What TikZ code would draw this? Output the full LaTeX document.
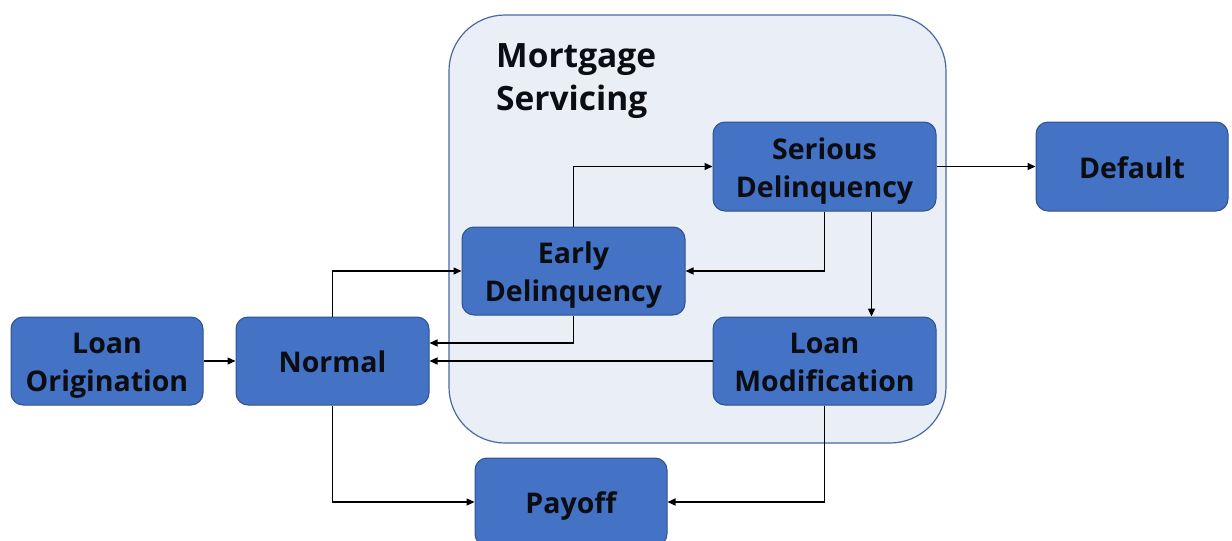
\documentclass[tikz,border=0pt]{standalone}
\usepackage{fontspec}
\setmainfont{Open Sans}
\usetikzlibrary{arrows.meta}
\definecolor{boxfill}{HTML}{4472C4}
\definecolor{boxline}{HTML}{2F528F}
\definecolor{bigfill}{HTML}{EAEEF7}
\definecolor{bigline}{HTML}{4A69A3}
\definecolor{txt}{HTML}{0B0D12}
\newcommand\bxt[1]{\raisebox{-10.5pt}[0pt][0pt]{\begin{tabular}{@{}c@{}}#1\end{tabular}}}
\tikzset{
  statebox/.style={draw=boxline, line width=1pt, fill=boxfill, rounded corners=12pt,
    text=txt, inner sep=0pt,
    font=\fontsize{28.5}{38}\selectfont\bfseries},
  bigbox/.style={draw=bigline, line width=1.2pt, fill=bigfill, rounded corners=56pt, inner sep=0pt},
  arr/.style={draw=black, line width=1.4pt, -{Triangle[length=8pt,width=7pt]}},
}
\begin{document}
\begin{tikzpicture}[x=1pt,y=-1pt]
\useasboundingbox (0,0) rectangle (1232,541);
\node[bigbox, minimum width=497pt, minimum height=428pt] (ms) at (697.5,229) {};
\node[anchor=north west, inner sep=0pt, align=left, text=txt,
  font=\fontsize{33.5}{43}\selectfont\bfseries] (title) at (496,43) {Mortgage\\Servicing};
\node[statebox, minimum width=192pt, minimum height=88pt] (lo) at (107,361) {\bxt{Loan\\Origination}};
\node[statebox, minimum width=193pt, minimum height=88pt] (normal) at (332.5,361) {\bxt{Normal}};
\node[statebox, minimum width=223pt, minimum height=88pt] (ed) at (573.5,271) {\bxt{Early\\Delinquency}};
\node[statebox, minimum width=223pt, minimum height=89pt] (sd) at (824.5,166.5) {\bxt{Serious\\Delinquency}};
\node[statebox, minimum width=192pt, minimum height=89pt] (default) at (1132,166.5) {\bxt{Default}};
\node[statebox, minimum width=223pt, minimum height=88pt] (lm) at (824.5,361) {\bxt{Loan\\Modification}};
\node[statebox, minimum width=192pt, minimum height=88pt] (payoff) at (571,502) {\bxt{Payoff}};
\draw[arr] (lo) -- (normal);
\draw[arr] (normal.north) |- (ed.west);
\draw[arr] (ed.north) |- (sd.west);
\draw[arr] (sd) -- (default);
\draw[arr] (sd.south) |- (ed.east);
\draw[arr] ([xshift=47pt]sd.south) -- ([xshift=47pt]lm.north);
\draw[arr] (ed.south) |- ([yshift=18pt]normal.east);
\draw[arr] (lm.west) -- (normal.east);
\draw[arr] (normal.south) |- (payoff.west);
\draw[arr] (lm.south) |- (payoff.east);
\end{tikzpicture}
\end{document}
